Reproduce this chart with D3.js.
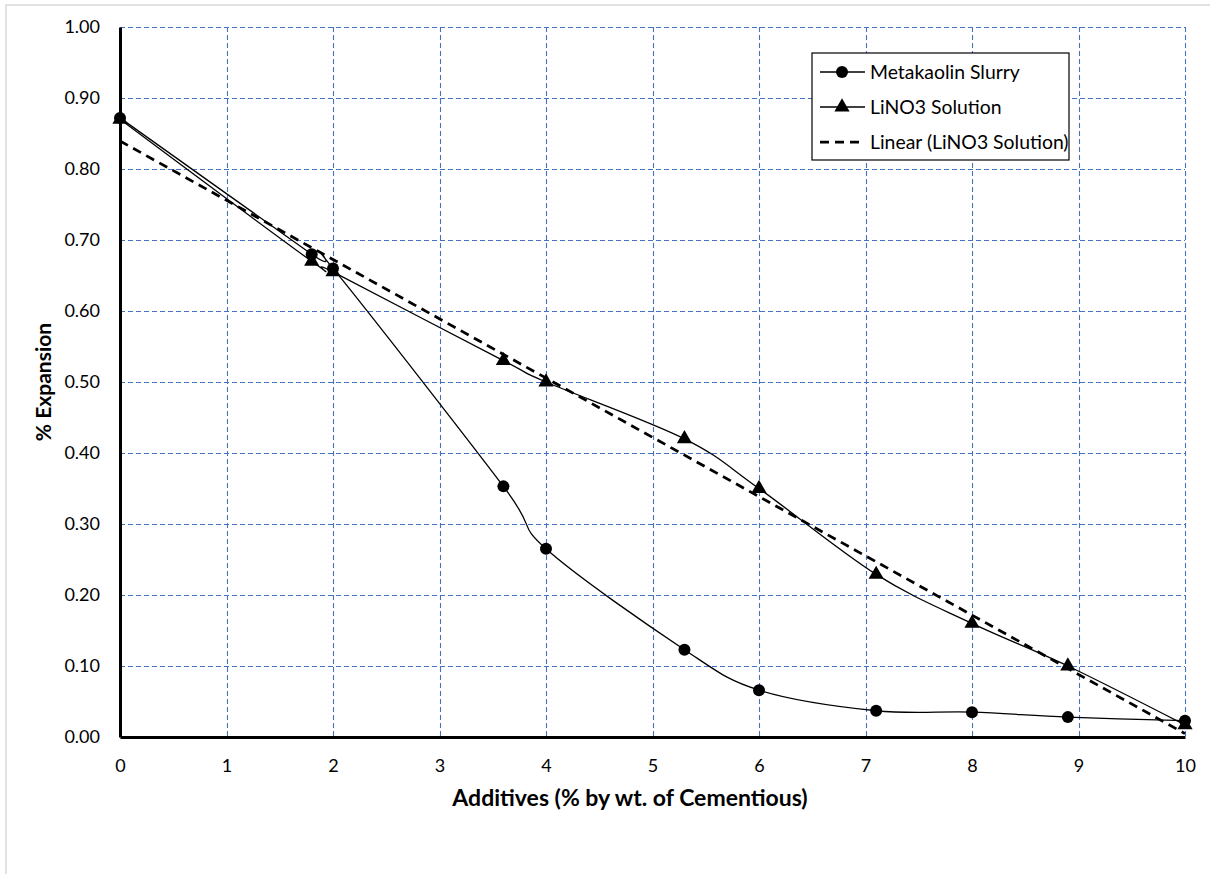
<!DOCTYPE html>
<html>
<head>
<meta charset="utf-8">
<script src="https://cdn.jsdelivr.net/npm/d3@7"></script>
<style>
  body { margin: 0; background: #fff; }
  svg text { font-family: Lato, "Open Sans", sans-serif; fill: #000; }
</style>
</head>
<body>
<svg id="chart" width="1210" height="874"></svg>
<script>
//----------------------------------------------------------- DATA
var additives   = [0, 1.8, 2, 3.6, 4, 5.3, 6, 7.1, 8, 8.9, 10];
var metakaolin  = [0.872, 0.680, 0.660, 0.353, 0.265, 0.123, 0.066, 0.037, 0.035, 0.028, 0.023];
var lino3       = [0.870, 0.670, 0.655, 0.530, 0.500, 0.420, 0.350, 0.229, 0.160, 0.100, 0.017];
var xTicks      = [0, 1, 2, 3, 4, 5, 6, 7, 8, 9, 10];
var yTicks      = [0, 0.1, 0.2, 0.3, 0.4, 0.5, 0.6, 0.7, 0.8, 0.9, 1.0];
var seriesNames = ["Metakaolin Slurry", "LiNO3 Solution", "Linear (LiNO3 Solution)"];

//----------------------------------------------------------- LAYOUT
var svg = d3.select("#chart");
var pLeft = 120, pRight = 1185, pTop = 27, pBottom = 737;

var x = d3.scaleLinear().domain([0, 10]).range([pLeft, pRight]);
var y = d3.scaleLinear().domain([0, 1]).range([pBottom, pTop]);

// chart frame (only top/left visible in the crop)
svg.append("rect")
	.attr("x", 6).attr("y", 5).attr("width", 1260).attr("height", 900)
	.attr("fill", "none").attr("stroke", "#d9d9d9").attr("stroke-width", 1.5);

//----------------------------------------------------------- GRID
var grid = svg.append("g").attr("stroke", "#4472c4").attr("stroke-width", 1.1).attr("stroke-dasharray", "5,3");
grid.selectAll("line.h").data(yTicks.filter(d => d > 0)).enter()
	.append("line").attr("class", "h")
	.attr("x1", pLeft).attr("x2", pRight)
	.attr("y1", d => Math.round(y(d)) + 0.5).attr("y2", d => Math.round(y(d)) + 0.5);
grid.selectAll("line.v").data(xTicks.filter(d => d > 0)).enter()
	.append("line").attr("class", "v")
	.attr("y1", pTop).attr("y2", pBottom)
	.attr("x1", d => Math.round(x(d)) + 0.5).attr("x2", d => Math.round(x(d)) + 0.5);

//----------------------------------------------------------- AXES
var xAxis = d3.axisBottom(x).tickValues(xTicks).tickSize(0).tickPadding(22).tickFormat(d3.format("d"));
var yAxis = d3.axisLeft(y).tickValues(yTicks).tickSize(0).tickPadding(20).tickFormat(d3.format(".2f"));

var gx = svg.append("g").attr("transform", "translate(0," + pBottom + ")").call(xAxis);
var gy = svg.append("g").attr("transform", "translate(" + pLeft + ",0)").call(yAxis);
[gx, gy].forEach(function (g) {
	g.select(".domain").attr("stroke", "#000").attr("stroke-width", 3);
	g.selectAll("text").attr("font-size", 18).attr("font-family", "Lato, sans-serif");
});

svg.append("text")
	.attr("x", 630).attr("y", 806)
	.attr("text-anchor", "middle").attr("font-weight", "bold").attr("font-size", 23)
	.text("Additives (% by wt. of Cementious)");

svg.append("text")
	.attr("transform", "translate(51," + ((pTop + pBottom) / 2) + ") rotate(-90)")
	.attr("text-anchor", "middle").attr("font-weight", "bold").attr("font-size", 21)
	.text("% Expansion");

//----------------------------------------------------------- TRENDLINE (least squares of LiNO3)
var mx = d3.mean(additives),
	my = d3.mean(lino3),
	sxy = d3.sum(additives, (d, i) => (d - mx) * (lino3[i] - my)),
	sxx = d3.sum(additives, d => (d - mx) * (d - mx)),
	slope = sxy / sxx,
	icept = my - slope * mx;

svg.append("line")
	.attr("x1", x(0)).attr("y1", y(icept))
	.attr("x2", x(10)).attr("y2", y(icept + slope * 10))
	.attr("stroke", "#000").attr("stroke-width", 2.75).attr("stroke-dasharray", "9,6");

//----------------------------------------------------------- SERIES
var line = d3.line().x(d => x(d[0])).y(d => y(d[1])).curve(d3.curveCardinal.tension(0));
var mkData = additives.map((d, i) => [d, metakaolin[i]]);
var liData = additives.map((d, i) => [d, lino3[i]]);

svg.append("path").datum(mkData).attr("d", line)
	.attr("fill", "none").attr("stroke", "#000").attr("stroke-width", 1.3);
svg.append("path").datum(liData).attr("d", line)
	.attr("fill", "none").attr("stroke", "#000").attr("stroke-width", 1.3);

var tri = d3.symbol().type(d3.symbolTriangle).size(100);

svg.append("g").selectAll("path").data(liData).enter()
	.append("path")
	.attr("d", tri)
	.attr("transform", d => "translate(" + x(d[0]) + "," + y(d[1]) + ")")
	.attr("fill", "#000");

svg.append("g").selectAll("circle").data(mkData).enter()
	.append("circle")
	.attr("cx", d => x(d[0])).attr("cy", d => y(d[1])).attr("r", 6)
	.attr("fill", "#000");

//----------------------------------------------------------- LEGEND
var lg = svg.append("g").attr("transform", "translate(812,53)");
lg.append("rect").attr("width", 257).attr("height", 107)
	.attr("fill", "#fff").attr("stroke", "#000").attr("stroke-width", 1.2);

var rows = lg.selectAll("g.row").data(seriesNames).enter()
	.append("g").attr("class", "row")
	.attr("transform", (d, i) => "translate(0," + (19 + i * 35) + ")");

rows.append("line")
	.attr("x1", 8).attr("x2", 53).attr("y1", 0).attr("y2", 0)
	.attr("stroke", "#000")
	.attr("stroke-width", (d, i) => i == 2 ? 2.75 : 1.3)
	.attr("stroke-dasharray", (d, i) => i == 2 ? "9,6" : null);

rows.filter((d, i) => i == 0).append("circle").attr("cx", 30).attr("cy", 0).attr("r", 6).attr("fill", "#000");
rows.filter((d, i) => i == 1).append("path").attr("d", tri).attr("transform", "translate(30,0)").attr("fill", "#000");

rows.append("text")
	.attr("x", 58).attr("y", 7)
	.attr("font-size", 19.4)
	.text(d => d);
</script>
</body>
</html>
